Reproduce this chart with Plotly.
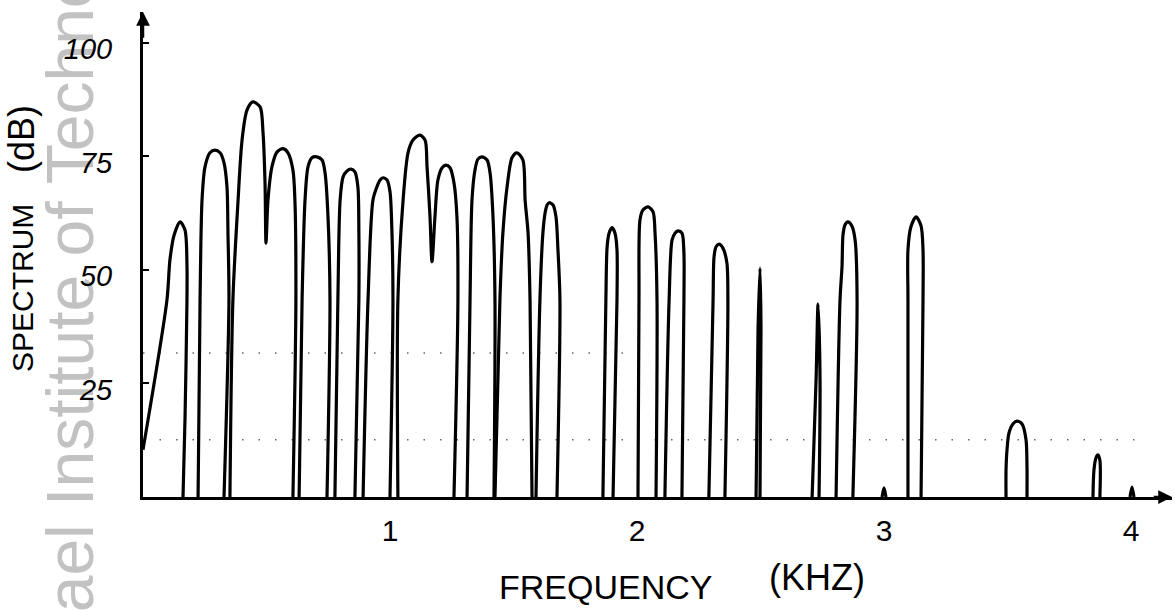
import plotly.graph_objects as go

# ---- data ----
# spectrum trace: arches separated by None (the baseline between arches lies on the axis)
freq_khz = [
    0.000, 0.097, 0.109, 0.126, 0.150, 0.170, 0.178, 0.178, 0.170, 0.162, None,
    0.223, 0.231, 0.239, 0.251, 0.271, 0.291, 0.312, 0.328, 0.340, 0.344, 0.348, 0.328, None,
    0.352, 0.364, 0.385, 0.401, 0.421, 0.445, 0.474, 0.486, 0.494, 0.498, 0.506, 0.522, 0.543,
    0.567, 0.587, 0.607, 0.615, 0.619, 0.607, None,
    0.632, 0.644, 0.656, 0.668, 0.684, 0.704, 0.725, 0.737, 0.749, 0.757, 0.745, None,
    0.777, 0.789, 0.798, 0.810, 0.826, 0.842, 0.858, 0.870, 0.874, 0.874, 0.858, None,
    0.891, 0.911, 0.931, 0.947, 0.960, 0.972, 0.988, 1.000, 1.008, 1.012, 1.000, None,
    1.032, 1.032, 1.053, 1.073, 1.093, 1.121, 1.142, 1.150, 1.162, 1.170, 1.182, 1.194, 1.211,
    1.227, 1.243, 1.259, 1.271, 1.275, 1.259, None,
    1.312, 1.324, 1.332, 1.344, 1.356, 1.372, 1.393, 1.405, 1.417, 1.425, 1.421, None,
    1.425, 1.445, 1.457, 1.474, 1.494, 1.514, 1.538, 1.547, 1.559, 1.567, 1.575, None,
    1.591, 1.607, 1.619, 1.628, 1.636, 1.644, 1.660, 1.672, 1.680, 1.688, 1.676, None,
    1.862, 1.874, 1.879, 1.887, 1.899, 1.911, 1.919, 1.919, 1.903, None,
    2.004, 2.008, 2.012, 2.024, 2.045, 2.065, 2.073, 2.081, 2.077, None,
    2.113, 2.130, 2.142, 2.154, 2.166, 2.182, 2.190, 2.190, 2.182, None,
    2.291, 2.308, 2.312, 2.320, 2.332, 2.348, 2.364, 2.368, 2.356, None,
    2.482, 2.490, 2.498, 2.502, 2.498, None,
    2.709, 2.725, 2.733, 2.741, 2.737, None,
    2.806, 2.822, 2.830, 2.834, 2.842, 2.854, 2.870, 2.883, 2.891, 2.874, None,
    2.992, 3.000, 3.008, None,
    3.097, 3.097, 3.097, 3.109, 3.130, 3.150, 3.158, 3.158, 3.150, None,
    3.494, 3.494, 3.498, 3.506, 3.522, 3.538, 3.559, 3.575, 3.579, 3.579, None,
    3.846, 3.850, 3.858, 3.866, 3.874, 3.874, None,
    3.996, 4.004, 4.012,
]
spectrum_db = [
    10.4, 43.4, 52.2, 57.7, 60.6, 58.8, 51.1, 43.4, 17.0, 0, None,
    0, 43.4, 65.4, 72.7, 75.8, 76.4, 75.8, 73.6, 68.3, 58.1, 43.4, 0, None,
    0, 43.4, 65.4, 78.6, 85.2, 87.0, 85.9, 80.2, 69.2, 55.9, 65.4, 72.7, 76.0,
    76.7, 75.8, 72.0, 65.4, 43.4, 0, None,
    0, 43.4, 65.4, 72.7, 74.7, 74.9, 74.2, 71.4, 61.7, 43.4, 0, None,
    0, 43.4, 65.4, 70.5, 71.8, 72.2, 71.6, 68.3, 58.1, 43.4, 0, None,
    0, 43.4, 65.4, 68.3, 69.8, 70.3, 69.8, 67.2, 58.1, 43.4, 0, None,
    0, 43.4, 65.4, 75.8, 78.6, 79.7, 78.6, 72.7, 61.7, 51.8, 61.7, 69.8, 72.5,
    73.1, 72.5, 69.2, 61.7, 43.4, 0, None,
    0, 43.4, 65.4, 72.0, 74.4, 74.9, 74.2, 71.4, 61.7, 43.4, 0, None,
    0, 43.4, 58.1, 68.3, 74.7, 75.8, 74.2, 65.4, 58.1, 43.4, 0, None,
    0, 43.4, 58.1, 62.6, 64.3, 64.8, 64.3, 61.7, 54.4, 43.4, 0, None,
    0, 43.4, 55.1, 58.1, 59.3, 58.1, 54.4, 43.4, 0, None,
    0, 43.4, 61.0, 63.2, 63.9, 62.8, 58.1, 43.4, 0, None,
    0, 43.4, 56.6, 58.1, 58.6, 58.1, 53.7, 43.4, 0, None,
    0, 43.4, 52.9, 55.1, 55.7, 54.8, 51.5, 43.4, 0, None,
    0, 36.8, 50.4, 36.8, 0, None,
    0, 25.8, 42.5, 25.8, 0, None,
    0, 43.4, 50.7, 57.7, 59.9, 60.6, 59.7, 56.6, 43.4, 0, None,
    0, 2.0, 0, None,
    0, 43.4, 54.4, 59.5, 61.7, 59.7, 54.4, 43.4, 0, None,
    0, 5.9, 10.4, 14.1, 16.1, 16.7, 16.1, 12.6, 6.6, 0, None,
    0, 5.9, 8.6, 9.3, 8.1, 0, None,
    0, 2.2, 0,
]

# faint dotted guide levels (dB) and how far they run (kHz)
guide_levels_db = [31.7, 12.6]
guide_ends_khz = [1.96, 4.07]

x_tick_vals = [1, 2, 3, 4]
x_tick_text = ["1", "2", "3", "4"]
y_tick_vals = [25, 50, 75, 100]
y_tick_text = ["25", "50", "75", "100"]

x_max = 4.166
y_max = 106.8

# ---- figure ----
fig = go.Figure()

for lvl, end in zip(guide_levels_db, guide_ends_khz):
    fig.add_trace(go.Scatter(
        x=[0, end], y=[lvl, lvl], mode="lines",
        line=dict(color="#666666", width=1.5, dash="1.5px,15px"),
        hoverinfo="skip",
    ))

fig.add_trace(go.Scatter(
    x=freq_khz, y=spectrum_db, mode="lines",
    line=dict(color="black", width=3.2, shape="spline", smoothing=0.8),
    connectgaps=False, hoverinfo="skip",
))

W, H = 1175, 611
ML, MR, MT, MB = 143, 3, 12, 114
PW, PH = W - ML - MR, H - MT - MB


def px_x(p):
    return (p - ML) / PW


def px_y(p):
    return (H - MB - p) / PH


fig.update_layout(
    width=W, height=H,
    margin=dict(l=ML, r=MR, t=MT, b=MB, pad=0),
    paper_bgcolor="white", plot_bgcolor="white",
    showlegend=False,
    font=dict(family="Liberation Sans, Arial, sans-serif", color="black"),
    xaxis=dict(
        range=[0, x_max], showgrid=False, zeroline=False,
        showline=True, linecolor="black", linewidth=3,
        tickvals=x_tick_vals, ticktext=x_tick_text, ticks="",
        tickfont=dict(size=30, color="black"),
        ticklabelstandoff=5,
        fixedrange=True,
    ),
    yaxis=dict(
        range=[0, y_max], showgrid=False, zeroline=False,
        showline=True, linecolor="black", linewidth=3,
        tickvals=y_tick_vals, ticktext=y_tick_text,
        ticks="inside", ticklen=6, tickwidth=2, tickcolor="black",
        tickfont=dict(size=29, color="black", style="italic"),
        ticklabelstandoff=22, ticklabelshift=6,
        fixedrange=True,
    ),
    shapes=[
        # invisible box that carries the grey watermark text (drawn beneath everything)
        dict(type="rect", xref="paper", yref="paper",
             x0=px_x(22), x1=px_x(106), y0=px_y(611), y1=px_y(-75),
             line=dict(width=0), fillcolor="rgba(0,0,0,0)", layer="below",
             label=dict(text="Israel Institute of Technology", textangle=-90,
                        textposition="middle center",
                        font=dict(size=66, color="#c2c2c2",
                                  family="Liberation Sans, Arial, sans-serif"))),
    ],
    annotations=[
        dict(text="SPECTRUM", xref="paper", yref="paper",
             x=px_x(22), y=px_y(288), textangle=-90, showarrow=False,
             xanchor="center", yanchor="middle", font=dict(size=30)),
        dict(text="(dB)", xref="paper", yref="paper",
             x=px_x(21), y=px_y(139), textangle=-90, showarrow=False,
             xanchor="center", yanchor="middle", font=dict(size=36)),
        dict(text="FREQUENCY", xref="paper", yref="paper",
             x=px_x(605), y=px_y(587), showarrow=False,
             xanchor="center", yanchor="middle", font=dict(size=34)),
        dict(text="(KHZ)", xref="paper", yref="paper",
             x=px_x(817), y=px_y(577), showarrow=False,
             xanchor="center", yanchor="middle", font=dict(size=36)),
        # axis arrowheads
        dict(x=x_max, y=0, ax=x_max - 0.08, ay=0, xref="x", yref="y",
             axref="x", ayref="y", text="", showarrow=True, arrowhead=2,
             arrowsize=1.1, arrowwidth=2.5, arrowcolor="black"),
        dict(x=0, y=y_max, ax=0, ay=y_max - 6, xref="x", yref="y",
             axref="x", ayref="y", text="", showarrow=True, arrowhead=2,
             arrowsize=1.1, arrowwidth=2.5, arrowcolor="black"),
    ],
)

fig.write_html("out.html", config={"displayModeBar": False, "staticPlot": True})
